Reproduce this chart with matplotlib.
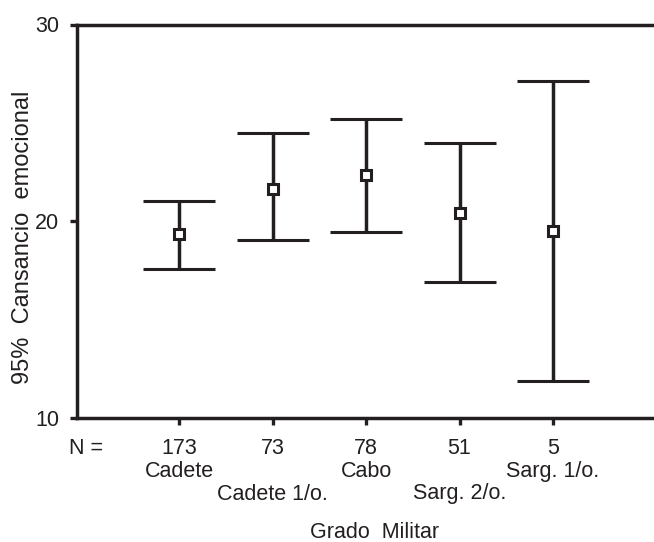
import matplotlib
matplotlib.use("Agg")
import matplotlib.pyplot as plt
import matplotlib.transforms as mtransforms

categories = ['Cadete', 'Cadete 1/o.', 'Cabo', 'Sarg. 2/o.', 'Sarg. 1/o.']
n_values = [173, 73, 78, 51, 5]
means = [19.34, 21.64, 22.35, 20.44, 19.50]
lower = [17.56, 19.05, 19.47, 16.91, 11.88]
upper = [21.04, 24.47, 25.20, 24.00, 27.14]
yticks = [10, 20, 30]

plt.rcParams['font.family'] = ['Liberation Sans', 'DejaVu Sans']
ink = '#231f20'
fs = 15.5

W, H = 654, 542
fig = plt.figure(figsize=(W / 100, H / 100), dpi=100)
ax = fig.add_axes([77 / W, 1 - 418 / H, 1 - 77 / W, (418 - 24.5) / H])

x = list(range(1, len(categories) + 1))
yerr = [[m - lo for m, lo in zip(means, lower)], [up - m for m, up in zip(means, upper)]]
ax.errorbar(x, means, yerr=yerr, fmt='s', color=ink, ecolor=ink,
            elinewidth=2.5, capsize=26, capthick=2.8,
            markersize=7.2, markerfacecolor='white', markeredgecolor=ink,
            markeredgewidth=2.2, zorder=3)

ax.set_xlim(-0.091, 6.08)
ax.set_ylim(10, 30)
ax.set_yticks(yticks)
ax.set_yticklabels([str(t) for t in yticks], fontsize=fs, color=ink)
ax.set_xticks(x)
ax.set_xticklabels([])
ax.tick_params(axis='y', direction='out', length=5, width=2.4, color=ink, pad=8)
ax.tick_params(axis='x', direction='out', length=5, width=2.4, color=ink)

for s in ['left', 'top', 'bottom']:
    ax.spines[s].set_linewidth(2.5)
    ax.spines[s].set_color(ink)
ax.spines['right'].set_visible(False)

trans = mtransforms.blended_transform_factory(ax.transData, fig.transFigure)
for i, (xi, n, cat) in enumerate(zip(x, n_values, categories)):
    ax.text(xi, 1 - 454 / H, str(n), transform=trans, ha='center', va='baseline',
            fontsize=fs, color=ink)
    ybase = 477 if i % 2 == 0 else 499.5
    ax.text(xi, 1 - ybase / H, cat, transform=trans, ha='center', va='baseline',
            fontsize=fs, color=ink)

fig.text(86 / W, 1 - 454 / H, 'N =', ha='center', va='baseline', fontsize=fs, color=ink)
fig.text(375 / W, 1 - 537.5 / H, 'Grado  Militar', ha='center', va='baseline',
         fontsize=fs, color=ink)
fig.text(22.7 / W, 1 - 237 / H, '95%  Cansancio  emocional', rotation=90,
         ha='center', va='center', fontsize=17, color=ink)

fig.savefig('out.png', dpi=100)
